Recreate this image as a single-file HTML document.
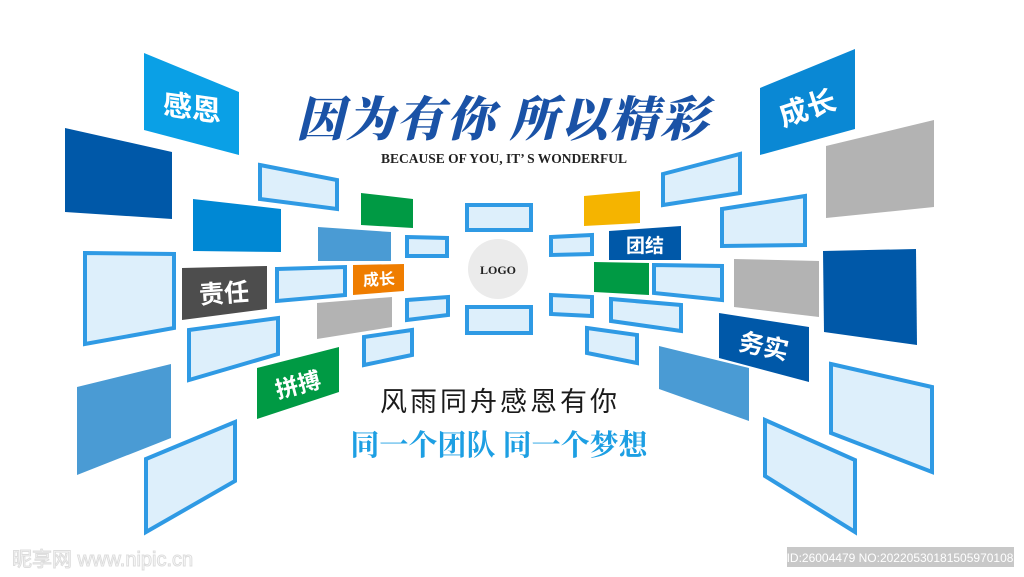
<!DOCTYPE html>
<html><head><meta charset="utf-8"><style>
html,body{margin:0;padding:0;background:#fff;}
svg{display:block;}
.f{fill:#ddeffb;stroke:#2f9ae4;stroke-width:4;stroke-linejoin:miter;}
.lb{font-family:"Liberation Sans","Noto Sans CJK SC",sans-serif;font-weight:bold;fill:#fff;}
</style></head><body>
<svg width="1024" height="577" viewBox="0 0 1024 577" xmlns="http://www.w3.org/2000/svg">
<!-- left side -->
<polygon points="144,53 239,92 239,155 144,130" fill="#0aa0e6"/>
<polygon points="65,128 172,152 172,219 65,212" fill="#0058a8"/>
<polygon points="193,199 281,209 281,252 193,251" fill="#0088d4"/>
<polygon class="f" points="260,165 337,180 337,209 260,199"/>
<polygon points="361,193 413,199 413,228 361,225" fill="#009a44"/>
<polygon points="318,227 391,232 391,261 318,261" fill="#4a9bd4"/>
<polygon class="f" points="407,237 447,238 447,256 407,256"/>
<polygon class="f" points="85,253 174,254 174,328 85,344"/>
<polygon points="182,268 267,266 267,309 182,320" fill="#4d4d4d"/>
<polygon class="f" points="277,269 345,267 345,295 277,301"/>
<polygon points="353,265 404,264 404,291 353,295" fill="#ef7d00"/>
<polygon points="317,303 392,297 392,327 317,339" fill="#b3b3b3"/>
<polygon class="f" points="407,300 448,297 448,315 407,320"/>
<polygon class="f" points="189,330 278,318 278,354 189,380"/>
<polygon class="f" points="364,337 412,330 412,355 364,365"/>
<polygon points="257,368 339,347 339,392 257,419" fill="#009a44"/>
<polygon points="77,387 171,364 171,438 77,475" fill="#4a9bd4"/>
<polygon class="f" points="146,459 235,422 235,481 146,532"/>
<!-- center -->
<polygon class="f" points="467,205 531,205 531,230 467,230"/>
<polygon class="f" points="467,307 531,307 531,333 467,333"/>
<circle cx="498" cy="269" r="30" fill="#ebebeb"/>
<text x="498" y="274" text-anchor="middle" font-family="Liberation Serif,serif" font-size="12" font-weight="bold" fill="#222">LOGO</text>
<!-- right side -->
<polygon points="760,88 855,49 855,129 760,155" fill="#0a88d4"/>
<polygon points="826,146 934,120 934,207 826,218" fill="#b3b3b3"/>
<polygon class="f" points="663,174 740,154 740,193 663,205"/>
<polygon points="584,196 640,191 640,223 584,226" fill="#f5b400"/>
<polygon class="f" points="722,209 805,196 805,245 722,246"/>
<polygon class="f" points="551,237 592,235 592,254 551,255"/>
<polygon points="609,231 681,226 681,260 609,260" fill="#0058a8"/>
<polygon points="594,262 649,263 649,295 594,292" fill="#009a44"/>
<polygon class="f" points="654,265 722,266 722,300 654,293"/>
<polygon points="734,259 819,261 819,317 734,307" fill="#b3b3b3"/>
<polygon points="823,251 916,249 917,345 824,332" fill="#0058a8"/>
<polygon class="f" points="551,295 592,297 592,316 551,314"/>
<polygon class="f" points="611,299 681,305 681,331 611,321"/>
<polygon class="f" points="587,328 637,335 637,363 587,353"/>
<polygon points="719,313 809,327 809,382 719,358" fill="#0058a8"/>
<polygon points="659,346 749,368 749,421 659,389" fill="#4a9bd4"/>
<polygon class="f" points="831,364 932,387 932,472 831,433"/>
<polygon class="f" points="765,420 855,460 855,532 765,476"/>
<!-- box labels -->
<text class="lb" x="192" y="118" font-size="29" text-anchor="middle" transform="skewY(8) translate(0,-27)">感恩</text>
<text class="lb" x="808" y="118" font-size="29" text-anchor="middle" transform="rotate(-18 808 110)">成长</text>
<text class="lb" x="224" y="302" font-size="25" text-anchor="middle" transform="rotate(-4 224 292)">责任</text>
<text class="lb" x="379" y="285" font-size="16" text-anchor="middle" transform="rotate(-3 379 280)">成长</text>
<text class="lb" x="298" y="393" font-size="23" text-anchor="middle" transform="rotate(-15 298 385)">拼搏</text>
<text class="lb" x="645" y="252" font-size="19" text-anchor="middle">团结</text>
<text class="lb" x="764" y="355" font-size="25" text-anchor="middle" transform="rotate(12 764 345)">务实</text>
<!-- titles -->
<text x="503" y="136" text-anchor="middle" font-family="'Noto Serif CJK SC',serif" font-weight="900" font-style="italic" font-size="48" fill="#1a52a6" letter-spacing="2">因为有你  所以精彩</text>
<text x="504" y="163" text-anchor="middle" font-family="'Liberation Serif',serif" font-weight="bold" font-size="13.5" fill="#222">BECAUSE OF YOU, IT’ S WONDERFUL</text>
<text x="500" y="411" text-anchor="middle" font-family="'Liberation Sans','Noto Sans CJK SC',sans-serif" font-size="27" fill="#1a1a1a" letter-spacing="3">风雨同舟感恩有你</text>
<text x="499" y="455" text-anchor="middle" font-family="'Liberation Serif','Noto Serif CJK SC',serif" font-weight="bold" font-size="29" fill="#1d9fe3">同一个团队 同一个梦想</text>
<!-- watermark -->
<text x="12" y="566" font-family="'Liberation Sans','Noto Sans CJK SC',sans-serif" font-size="20" fill="none" stroke="#ddd" stroke-width="1">昵享网 www.nipic.cn</text>
<rect x="787" y="547" width="227" height="20" fill="#c8c8c8"/>
<text x="900" y="562" text-anchor="middle" font-family="'Liberation Sans',sans-serif" font-size="12" fill="#fff">ID:26004479 NO:20220530181505970108</text>
</svg>
</body></html>
